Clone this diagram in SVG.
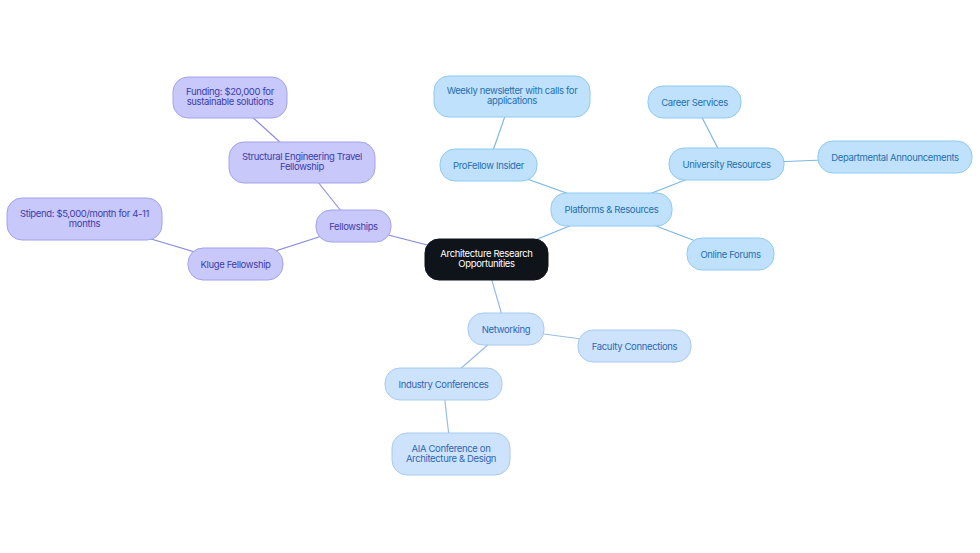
<svg xmlns="http://www.w3.org/2000/svg" width="980" height="553" viewBox="0 0 980 553">
  <style>
    text { font-family: Inter, "Liberation Sans", sans-serif; font-size: 9.5px; text-anchor: middle; letter-spacing: -0.35px; }
    .root rect { fill: #0f131a; stroke: #0f131a; }
    .root text { fill: #ffffff; }
    .fel rect { fill: #c8c8fa; stroke: #a2a2ee; stroke-width: 1; }
    .fel text { fill: #3d3daa; }
    .plat rect { fill: #bfe1fb; stroke: #8fcaf1; stroke-width: 1; }
    .plat text { fill: #1f70b3; }
    .net rect { fill: #cde3fb; stroke: #a8caf0; stroke-width: 1; }
    .net text { fill: #2d67b5; }
    .edges line { stroke-width: 1.2; fill: none; }
    .e-fel { stroke: #8e8ee0; }
    .e-plat { stroke: #7db7e3; }
    .e-net { stroke: #98bde6; }
  </style>

  <rect width="980" height="553" fill="#ffffff"/>

  <!-- connectors, centre to centre; nodes are painted over them -->
  <g id="connectors" class="edges">
    <line class="e-fel" x1="486" y1="260" x2="353" y2="226"/>
    <line class="e-fel" x1="353" y1="226" x2="302" y2="162"/>
    <line class="e-fel" x1="302" y1="162" x2="230" y2="97"/>
    <line class="e-fel" x1="353" y1="226" x2="235" y2="264"/>
    <line class="e-fel" x1="235" y1="264" x2="84" y2="219"/>
    <line class="e-plat" x1="486" y1="260" x2="611" y2="209"/>
    <line class="e-plat" x1="611" y1="209" x2="488" y2="165"/>
    <line class="e-plat" x1="488" y1="165" x2="512" y2="96"/>
    <line class="e-plat" x1="611" y1="209" x2="726" y2="164"/>
    <line class="e-plat" x1="726" y1="164" x2="694" y2="102"/>
    <line class="e-plat" x1="726" y1="164" x2="895" y2="157"/>
    <line class="e-plat" x1="611" y1="209" x2="730" y2="254"/>
    <line class="e-net" x1="486" y1="260" x2="506" y2="329"/>
    <line class="e-net" x1="506" y1="329" x2="634" y2="346"/>
    <line class="e-net" x1="506" y1="329" x2="443" y2="384"/>
    <line class="e-net" x1="443" y1="384" x2="451" y2="454"/>
  </g>

  <g id="root" class="root">
    <rect x="425" y="239" width="123" height="41" rx="14"/>
    <text x="486.5" y="257">Architecture Research</text>
    <text x="486.5" y="267">Opportunities</text>
  </g>

  <!-- Fellowships branch -->
  <g id="fellowships" class="fel">
    <rect x="316" y="210" width="75" height="32" rx="15"/>
    <text x="353.5" y="229.5">Fellowships</text>
  </g>
  <g id="structural" class="fel">
    <rect x="229" y="142" width="146" height="41" rx="15"/>
    <text x="302" y="160">Structural Engineering Travel</text>
    <text x="302" y="170">Fellowship</text>
  </g>
  <g id="funding" class="fel">
    <rect x="173" y="77" width="114" height="41" rx="15"/>
    <text x="230" y="95">Funding: $20,000 for</text>
    <text x="230" y="105">sustainable solutions</text>
  </g>
  <g id="kluge" class="fel">
    <rect x="188" y="248" width="95" height="32" rx="15"/>
    <text x="235.5" y="267.5">Kluge Fellowship</text>
  </g>
  <g id="stipend" class="fel">
    <rect x="7" y="198" width="155" height="42" rx="15"/>
    <text x="84.5" y="217">Stipend: $5,000/month for 4-11</text>
    <text x="84.5" y="227">months</text>
  </g>

  <!-- Platforms & Resources branch -->
  <g id="platforms" class="plat">
    <rect x="551" y="193" width="121" height="33" rx="15"/>
    <text x="611.5" y="212.5">Platforms &amp; Resources</text>
  </g>
  <g id="profellow" class="plat">
    <rect x="440" y="149" width="97" height="32" rx="15"/>
    <text x="488.5" y="168.5">ProFellow Insider</text>
  </g>
  <g id="newsletter" class="plat">
    <rect x="434" y="76" width="156" height="41" rx="15"/>
    <text x="512" y="94">Weekly newsletter with calls for</text>
    <text x="512" y="104">applications</text>
  </g>
  <g id="university" class="plat">
    <rect x="669" y="148" width="115" height="32" rx="15"/>
    <text x="726.5" y="167.5">University Resources</text>
  </g>
  <g id="career" class="plat">
    <rect x="648" y="86" width="93" height="32" rx="15"/>
    <text x="694.5" y="105.5">Career Services</text>
  </g>
  <g id="departmental" class="plat">
    <rect x="818" y="141" width="154" height="32" rx="15"/>
    <text x="895" y="160.5">Departmental Announcements</text>
  </g>
  <g id="forums" class="plat">
    <rect x="687" y="238" width="87" height="32" rx="15"/>
    <text x="730.5" y="257.5">Online Forums</text>
  </g>

  <!-- Networking branch -->
  <g id="networking" class="net">
    <rect x="468" y="313" width="76" height="32" rx="15"/>
    <text x="506" y="332.5">Networking</text>
  </g>
  <g id="faculty" class="net">
    <rect x="578" y="330" width="113" height="32" rx="15"/>
    <text x="634.5" y="349.5">Faculty Connections</text>
  </g>
  <g id="conferences" class="net">
    <rect x="385" y="368" width="117" height="32" rx="15"/>
    <text x="443.5" y="387.5">Industry Conferences</text>
  </g>
  <g id="aia" class="net">
    <rect x="392" y="433" width="118" height="42" rx="15"/>
    <text x="451" y="452">AIA Conference on</text>
    <text x="451" y="462">Architecture &amp; Design</text>
  </g>
</svg>
